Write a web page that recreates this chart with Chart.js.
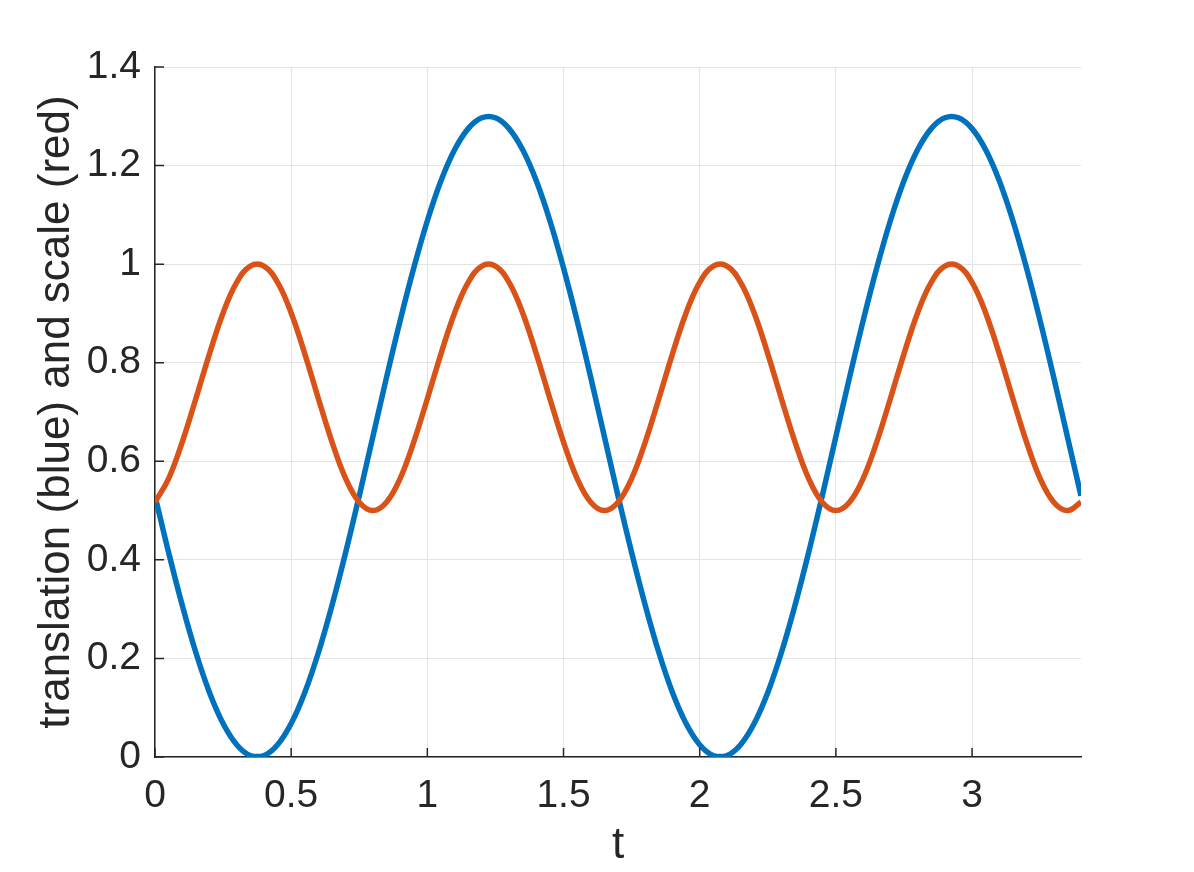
<!DOCTYPE html>
<html>
<head>
<meta charset="utf-8">
<script src="https://cdn.jsdelivr.net/npm/chart.js@4/dist/chart.umd.min.js"></script>
<style>
  html, body { margin: 0; padding: 0; background: #fff; }
  #wrap { width: 1194px; height: 872px; }
</style>
</head>
<body>
<div id="wrap"><canvas id="myChart"></canvas></div>
<script>
const tValues = [
  0, 0.05, 0.1, 0.15, 0.2, 0.25, 0.3, 0.35, 0.4, 0.45,
  0.5, 0.55, 0.6, 0.65, 0.7, 0.75, 0.8, 0.85, 0.9, 0.95,
  1, 1.05, 1.1, 1.15, 1.2, 1.25, 1.3, 1.35, 1.4, 1.45,
  1.5, 1.55, 1.6, 1.65, 1.7, 1.75, 1.8, 1.85, 1.9, 1.95,
  2, 2.05, 2.1, 2.15, 2.2, 2.25, 2.3, 2.35, 2.4, 2.45,
  2.5, 2.55, 2.6, 2.65, 2.7, 2.75, 2.8, 2.85, 2.9, 2.95,
  3, 3.05, 3.1, 3.15, 3.2, 3.25, 3.3, 3.35, 3.4
];

const translation = [
  0.53, 0.415, 0.308, 0.212, 0.131, 0.068, 0.025, 0.003, 0.003, 0.025,
  0.068, 0.131, 0.212, 0.308, 0.415, 0.53, 0.65, 0.77, 0.885, 0.992,
  1.088, 1.169, 1.232, 1.275, 1.297, 1.297, 1.275, 1.232, 1.169, 1.088,
  0.992, 0.885, 0.77, 0.65, 0.53, 0.415, 0.308, 0.212, 0.131, 0.068,
  0.025, 0.003, 0.003, 0.025, 0.068, 0.131, 0.212, 0.308, 0.415, 0.53,
  0.65, 0.77, 0.885, 0.992, 1.088, 1.169, 1.232, 1.275, 1.297, 1.297,
  1.275, 1.232, 1.169, 1.088, 0.992, 0.885, 0.77, 0.65, 0.53
];

const scaleVals = [
  0.517, 0.565, 0.639, 0.727, 0.818, 0.901, 0.963, 0.996, 0.996, 0.963,
  0.901, 0.818, 0.727, 0.639, 0.565, 0.517, 0.5, 0.517, 0.565, 0.639,
  0.727, 0.818, 0.901, 0.963, 0.996, 0.996, 0.963, 0.901, 0.818, 0.727,
  0.639, 0.565, 0.517, 0.5, 0.517, 0.565, 0.639, 0.727, 0.818, 0.901,
  0.963, 0.996, 0.996, 0.963, 0.901, 0.818, 0.727, 0.639, 0.565, 0.517,
  0.5, 0.517, 0.565, 0.639, 0.727, 0.818, 0.901, 0.963, 0.996, 0.996,
  0.963, 0.901, 0.818, 0.727, 0.639, 0.565, 0.517, 0.5, 0.517
];

const xLabel = "t";
const yLabel = "translation (blue) and scale (red)";

const textColor = "#262626";
const gridColor = "#e3e3e3";
const fontFamily = "'Liberation Sans', Arial, Helvetica, sans-serif";

function toPoints(xs, ys) {
  return xs.map((x, i) => ({ x: x, y: ys[i] }));
}

// matlab drops the trailing ".0"
function tickText(value) {
  return String(Number(value.toFixed(2)));
}

// MATLAB style inward tick marks
const inwardTicks = {
  id: "inwardTicks",
  afterDraw(chart) {
    const { ctx, chartArea, scales } = chart;
    const len = 9;
    ctx.save();
    ctx.strokeStyle = textColor;
    ctx.lineWidth = 1.5;
    ctx.beginPath();
    scales.x.ticks.forEach((t) => {
      const px = scales.x.getPixelForValue(t.value);
      ctx.moveTo(px, chartArea.bottom);
      ctx.lineTo(px, chartArea.bottom - len);
    });
    scales.y.ticks.forEach((t) => {
      const py = scales.y.getPixelForValue(t.value);
      ctx.moveTo(chartArea.left, py);
      ctx.lineTo(chartArea.left + len, py);
    });
    ctx.stroke();
    ctx.restore();
  },
};

const ctx = document.getElementById("myChart");

new Chart(ctx, {
  type: "line",
  data: {
    datasets: [
      {
        label: "translation",
        data: toPoints(tValues, translation),
        borderColor: "#0072BD",
        borderWidth: 5.5,
        pointRadius: 0,
        tension: 0.4,
        fill: false,
        order: 1,
      },
      {
        label: "scale",
        data: toPoints(tValues, scaleVals),
        borderColor: "#D95319",
        borderWidth: 5.5,
        pointRadius: 0,
        tension: 0.4,
        fill: false,
        order: 0,
      },
    ],
  },
  options: {
    responsive: true,
    maintainAspectRatio: false,
    animation: false,
    layout: {
      padding: { top: 67, right: 113, bottom: 0, left: 0 },
    },
    plugins: {
      legend: { display: false },
      tooltip: { enabled: false },
    },
    scales: {
      x: {
        type: "linear",
        min: 0,
        max: 3.4,
        afterFit: (scale) => {
          scale.height = 115;
        },
        ticks: {
          stepSize: 0.5,
          includeBounds: false,
          color: textColor,
          padding: 16,
          maxRotation: 0,
          callback: tickText,
          font: { family: fontFamily, size: 39 },
        },
        grid: {
          color: gridColor,
          lineWidth: 1,
          drawTicks: false,
        },
        border: { display: true, color: textColor, width: 1.5 },
        title: {
          display: true,
          text: xLabel,
          color: textColor,
          padding: { top: 0, bottom: 0 },
          font: { family: fontFamily, size: 44 },
        },
      },
      y: {
        type: "linear",
        min: 0,
        max: 1.4,
        afterFit: (scale) => {
          scale.width = 155;
        },
        ticks: {
          stepSize: 0.2,
          color: textColor,
          padding: 14,
          callback: tickText,
          font: { family: fontFamily, size: 39 },
        },
        grid: {
          color: gridColor,
          lineWidth: 1,
          drawTicks: false,
        },
        border: { display: true, color: textColor, width: 1.5 },
        title: {
          display: true,
          text: yLabel,
          color: textColor,
          padding: { top: 30, bottom: 0 },
          font: { family: fontFamily, size: 44 },
        },
      },
    },
  },
  plugins: [inwardTicks],
});
</script>
</body>
</html>
